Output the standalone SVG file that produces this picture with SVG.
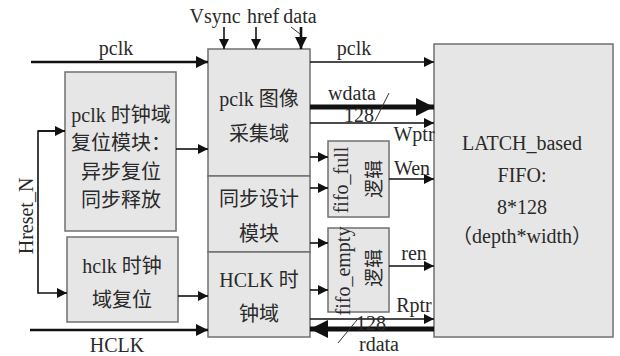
<svg xmlns="http://www.w3.org/2000/svg" width="620" height="356" viewBox="0 0 620 356">
  <style>
    .box { fill: #e6e6e6; stroke: #707070; stroke-width: 1.5; }
    .t { font-family: "Liberation Serif", "Noto Sans CJK SC", serif; font-size: 20px; fill: #2a2a2a; text-anchor: middle; }
    .cj { font-family: "Noto Sans CJK SC", serif; font-size: 19px; fill: #2a2a2a; text-anchor: middle; }
    .w1 { stroke: #111; stroke-width: 1.6; fill: none; }
    .w2 { stroke: #111; stroke-width: 2.6; fill: none; }
    .bus { stroke: #111; stroke-width: 5; fill: none; }
    .thin { stroke: #333; stroke-width: 1; fill: none; }
  </style>
  <defs>
    <marker id="a1" viewBox="0 0 10 10" refX="10" refY="5" markerUnits="userSpaceOnUse" markerWidth="14" markerHeight="10" orient="auto">
      <path d="M0,0 L10,5 L0,10 Z" fill="#111"/>
    </marker>
    <marker id="a2" viewBox="0 0 10 10" refX="10" refY="5" markerUnits="userSpaceOnUse" markerWidth="18" markerHeight="12" orient="auto">
      <path d="M0,0 L10,5 L0,10 Z" fill="#111"/>
    </marker>
    <marker id="a3" viewBox="0 0 10 10" refX="10" refY="5" markerUnits="userSpaceOnUse" markerWidth="26" markerHeight="18" orient="auto">
      <path d="M0,0 L10,5 L0,10 Z" fill="#111"/>
    </marker>
  </defs>

  <rect width="620" height="356" fill="#ffffff"/>

  <!-- reset blocks -->
  <g id="pclk_reset">
    <rect class="box" x="65" y="72" width="111" height="159"/>
    <text class="t" x="121" y="122">pclk 时钟域</text>
    <text class="t" x="121" y="150">复位模块：</text>
    <text class="t" x="121" y="179">异步复位</text>
    <text class="t" x="121" y="207">同步释放</text>
  </g>
  <g id="hclk_reset">
    <rect class="box" x="67" y="237" width="111" height="85"/>
    <text class="t" x="122" y="273">hclk 时钟</text>
    <text class="t" x="122" y="307">域复位</text>
  </g>

  <!-- central column: capture / sync / HCLK domains -->
  <g id="pclk_capture">
    <rect class="box" x="208" y="49" width="102" height="127"/>
    <text class="t" x="259" y="106">pclk 图像</text>
    <text class="t" x="259" y="141">采集域</text>
  </g>
  <g id="sync_design">
    <rect class="box" x="208" y="176" width="102" height="76"/>
    <text class="t" x="259" y="206">同步设计</text>
    <text class="t" x="259" y="241">模块</text>
  </g>
  <g id="hclk_domain">
    <rect class="box" x="208" y="252" width="102" height="85"/>
    <text class="t" x="259" y="287">HCLK 时</text>
    <text class="t" x="259" y="321">钟域</text>
  </g>

  <!-- full / empty flag logic -->
  <g id="fifo_full">
    <rect class="box" x="328" y="141" width="61" height="76"/>
    <text class="t" transform="translate(348,180) rotate(-90)">fifo_full</text>
    <text class="cj" transform="translate(381,179) rotate(-90)">逻辑</text>
  </g>
  <g id="fifo_empty">
    <rect class="box" x="328" y="228" width="61" height="84"/>
    <text class="t" transform="translate(350,271) rotate(-90)">fifo_empty</text>
    <text class="cj" transform="translate(381,268) rotate(-90)">逻辑</text>
  </g>

  <!-- latch FIFO -->
  <g id="latch_fifo">
    <rect class="box" x="434" y="44" width="179" height="293"/>
    <text class="t" x="522" y="150">LATCH_based</text>
    <text class="t" x="522" y="182">FIFO:</text>
    <text class="t" x="522" y="214">8*128</text>
    <text class="t" x="522" y="243">（depth*width）</text>
  </g>

  <!-- connectors -->
  <g id="connectors">
    <!-- clock inputs -->
    <line class="w2" x1="31" y1="62" x2="208" y2="62" marker-end="url(#a2)"/>
    <text class="t" x="116" y="55">pclk</text>
    <line class="w2" x1="30" y1="330" x2="208" y2="330" marker-end="url(#a2)"/>
    <text class="t" x="117" y="352">HCLK</text>

    <!-- reset distribution -->
    <path class="w1" d="M65,131 H38 V293 H67" marker-end="url(#a1)"/>
    <line class="w1" x1="38" y1="131" x2="65" y2="131" marker-end="url(#a1)"/>
    <text class="t" transform="translate(33,216) rotate(-90)">Hreset_N</text>
    <line class="w1" x1="176" y1="149" x2="208" y2="149" marker-end="url(#a1)"/>
    <line class="w1" x1="178" y1="296" x2="208" y2="296" marker-end="url(#a1)"/>

    <!-- camera inputs -->
    <text class="t" x="215" y="23">Vsync</text>
    <text class="t" x="263" y="23">href</text>
    <text class="t" x="300" y="23">data</text>
    <line class="w1" x1="224" y1="27" x2="224" y2="49" marker-end="url(#a1)"/>
    <line class="w1" x1="256" y1="27" x2="256" y2="49" marker-end="url(#a1)"/>
    <line class="w2" x1="301" y1="27" x2="301" y2="49" marker-end="url(#a2)"/>
    <line class="thin" x1="291" y1="27" x2="300" y2="34"/>

    <!-- write side -->
    <line class="w1" x1="310" y1="62" x2="434" y2="62" marker-end="url(#a1)"/>
    <text class="t" x="354" y="55">pclk</text>
    <line class="bus" x1="310" y1="107" x2="434" y2="107" marker-end="url(#a3)"/>
    <text class="t" x="352" y="100">wdata</text>
    <line class="thin" x1="375" y1="121" x2="389" y2="93"/>
    <text class="t" x="359" y="122">128</text>
    <line class="w1" x1="310" y1="123" x2="434" y2="123" marker-end="url(#a1)"/>
    <text class="t" x="414" y="141">Wptr</text>
    <line class="w1" x1="310" y1="157" x2="328" y2="157" marker-end="url(#a1)"/>
    <line class="w1" x1="310" y1="188" x2="328" y2="188" marker-end="url(#a1)"/>
    <line class="w1" x1="389" y1="179" x2="434" y2="179" marker-end="url(#a1)"/>
    <text class="t" x="412" y="175">Wen</text>

    <!-- read side -->
    <line class="w1" x1="310" y1="243" x2="328" y2="243" marker-end="url(#a1)"/>
    <line class="w1" x1="310" y1="290" x2="328" y2="290" marker-end="url(#a1)"/>
    <line class="w1" x1="389" y1="266" x2="434" y2="266" marker-end="url(#a1)"/>
    <text class="t" x="414" y="260">ren</text>
    <line class="w1" x1="310" y1="319" x2="434" y2="319" marker-end="url(#a1)"/>
    <text class="t" x="414" y="312">Rptr</text>
    <line class="bus" x1="434" y1="329" x2="310" y2="329" marker-end="url(#a3)"/>
    <text class="t" x="371" y="330">128</text>
    <line class="thin" x1="338" y1="343" x2="357" y2="320"/>
    <text class="t" x="379" y="351">rdata</text>
  </g>
</svg>
